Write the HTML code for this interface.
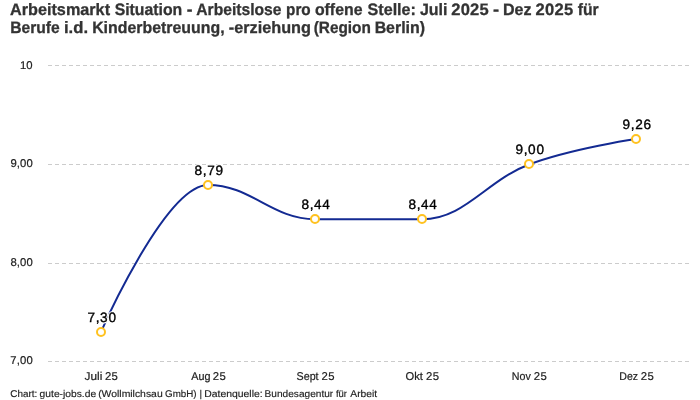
<!DOCTYPE html>
<html lang="de"><head><meta charset="utf-8"><title>Arbeitsmarkt Situation</title>
<style>
html,body{margin:0;padding:0;background:#fff;}
body{width:700px;height:400px;overflow:hidden;font-family:"Liberation Sans",sans-serif;}
svg{display:block;}
text{font-family:"Liberation Sans",sans-serif;white-space:pre;text-rendering:geometricPrecision;}
.title{font-size:16.5px;font-weight:bold;fill:#333;stroke:#333;stroke-width:0.3px;}
.yl{font-size:11.3px;fill:#222;stroke:#222;stroke-width:0.2px;}
.xl{font-size:11.3px;fill:#222;stroke:#222;stroke-width:0.2px;}
.dt{font-size:13.6px;}
.dh{fill:#fff;stroke:#fff;stroke-width:2.6px;stroke-linejoin:round;}
.dl{fill:#000;stroke:#000;stroke-width:0.35px;}
.ft{font-size:9.8px;fill:#222;stroke:#222;stroke-width:0.15px;}
.grid line{stroke:#ccc;stroke-width:1;stroke-dasharray:4 3;shape-rendering:crispEdges;}
</style></head><body>
<svg width="700" height="400" viewBox="0 0 700 400">
<rect width="700" height="400" fill="#fff"/>
<text class="title" y="14.50"><tspan x="10.05" textLength="99.99" lengthAdjust="spacingAndGlyphs">Arbeitsmarkt</tspan> <tspan x="114.64" textLength="67.55" lengthAdjust="spacingAndGlyphs">Situation</tspan> <tspan x="186.88" textLength="5.74" lengthAdjust="spacingAndGlyphs">-</tspan> <tspan x="196.26" textLength="85.19" lengthAdjust="spacingAndGlyphs">Arbeitslose</tspan> <tspan x="286.09" textLength="24.65" lengthAdjust="spacingAndGlyphs">pro</tspan> <tspan x="314.92" textLength="47.54" lengthAdjust="spacingAndGlyphs">offene</tspan> <tspan x="367.53" textLength="48.44" lengthAdjust="spacingAndGlyphs">Stelle:</tspan> <tspan x="419.88" textLength="27.55" lengthAdjust="spacingAndGlyphs">Juli</tspan> <tspan x="451.32" textLength="37.32" lengthAdjust="spacing">2025</tspan> <tspan x="493.04" textLength="6.11" lengthAdjust="spacingAndGlyphs">-</tspan> <tspan x="503.03" textLength="28.53" lengthAdjust="spacingAndGlyphs">Dez</tspan> <tspan x="535.62" textLength="37.62" lengthAdjust="spacing">2025</tspan> <tspan x="577.78" textLength="20.94" lengthAdjust="spacingAndGlyphs">für</tspan></text>
<text class="title" y="33.45"><tspan x="10.15" textLength="49.52" lengthAdjust="spacingAndGlyphs">Berufe</tspan> <tspan x="63.99" textLength="24.09" lengthAdjust="spacingAndGlyphs">i.d.</tspan> <tspan x="92.14" textLength="132.44" lengthAdjust="spacingAndGlyphs">Kinderbetreuung,</tspan> <tspan x="228.81" textLength="82.10" lengthAdjust="spacingAndGlyphs">-erziehung</tspan> <tspan x="313.72" textLength="57.14" lengthAdjust="spacingAndGlyphs">(Region</tspan> <tspan x="374.64" textLength="50.38" lengthAdjust="spacingAndGlyphs">Berlin)</tspan></text>
<g class="grid">
<line x1="48" y1="65.5" x2="690" y2="65.5"/>
<line x1="48" y1="164.5" x2="690" y2="164.5"/>
<line x1="48" y1="263.5" x2="690" y2="263.5"/>
<line x1="48" y1="361.5" x2="690" y2="361.5"/>
</g>
<text class="yl" y="68.80"><tspan x="19.95" textLength="12.68" lengthAdjust="spacing">10</tspan></text>
<text class="yl" y="166.60"><tspan x="10.43" textLength="22.35" lengthAdjust="spacing">9,00</tspan></text>
<text class="yl" y="265.70"><tspan x="10.43" textLength="22.35" lengthAdjust="spacing">8,00</tspan></text>
<text class="yl" y="363.60"><tspan x="10.30" textLength="22.47" lengthAdjust="spacing">7,00</tspan></text>
<text class="xl" y="379.80"><tspan x="84.57" textLength="17.77" lengthAdjust="spacingAndGlyphs">Juli</tspan> <tspan x="104.90" textLength="12.85" lengthAdjust="spacing">25</tspan></text>
<text class="xl" y="379.80"><tspan x="191.22" textLength="19.16" lengthAdjust="spacingAndGlyphs">Aug</tspan> <tspan x="212.70" textLength="13.05" lengthAdjust="spacing">25</tspan></text>
<text class="xl" y="379.80"><tspan x="296.54" textLength="22.06" lengthAdjust="spacingAndGlyphs">Sept</tspan> <tspan x="321.50" textLength="13.05" lengthAdjust="spacing">25</tspan></text>
<text class="xl" y="379.80"><tspan x="405.61" textLength="17.35" lengthAdjust="spacingAndGlyphs">Okt</tspan> <tspan x="425.90" textLength="13.05" lengthAdjust="spacing">25</tspan></text>
<text class="xl" y="379.80"><tspan x="511.77" textLength="19.00" lengthAdjust="spacingAndGlyphs">Nov</tspan> <tspan x="533.70" textLength="13.05" lengthAdjust="spacing">25</tspan></text>
<text class="xl" y="379.80"><tspan x="619.28" textLength="18.75" lengthAdjust="spacingAndGlyphs">Dez</tspan> <tspan x="640.70" textLength="13.05" lengthAdjust="spacing">25</tspan></text>
<path d="M101.000 331.900 C101.000 331.900 165.200 184.887 208.000 184.887 C250.800 184.887 272.200 219.223 315.000 219.223 C357.800 219.223 379.200 219.223 422.000 219.223 C464.800 219.223 486.200 180.510 529.000 164.463 C571.800 148.416 636.000 138.987 636.000 138.987" fill="none" stroke="#132a92" stroke-width="2" stroke-linejoin="round" stroke-linecap="butt"/>
<circle cx="101" cy="332" r="4" fill="#fff" stroke="#ffc220" stroke-width="2"/>
<circle cx="208" cy="185" r="4" fill="#fff" stroke="#ffc220" stroke-width="2"/>
<circle cx="315" cy="219" r="4" fill="#fff" stroke="#ffc220" stroke-width="2"/>
<circle cx="422" cy="219" r="4" fill="#fff" stroke="#ffc220" stroke-width="2"/>
<circle cx="529" cy="164" r="4" fill="#fff" stroke="#ffc220" stroke-width="2"/>
<circle cx="636" cy="139" r="4" fill="#fff" stroke="#ffc220" stroke-width="2"/>
<g class="dh">
<use href="#dl0"/>
<use href="#dl1"/>
<use href="#dl2"/>
<use href="#dl3"/>
<use href="#dl4"/>
<use href="#dl5"/>
</g>
<g class="dl">
<text class="dt" y="321.85" id="dl0"><tspan x="87.40" textLength="28.54" lengthAdjust="spacing">7,30</tspan></text>
<text class="dt" y="174.85" id="dl1"><tspan x="194.53" textLength="28.54" lengthAdjust="spacing">8,79</tspan></text>
<text class="dt" y="208.85" id="dl2"><tspan x="301.52" textLength="28.29" lengthAdjust="spacing">8,44</tspan></text>
<text class="dt" y="208.85" id="dl3"><tspan x="408.52" textLength="28.29" lengthAdjust="spacing">8,44</tspan></text>
<text class="dt" y="153.85" id="dl4"><tspan x="515.40" textLength="28.54" lengthAdjust="spacing">9,00</tspan></text>
<text class="dt" y="128.85" id="dl5"><tspan x="622.40" textLength="28.67" lengthAdjust="spacing">9,26</tspan></text>
</g>
<text class="ft" y="397.00"><tspan x="10.22" textLength="27.00" lengthAdjust="spacingAndGlyphs">Chart:</tspan> <tspan x="39.61" textLength="56.54" lengthAdjust="spacingAndGlyphs">gute-jobs.de</tspan> <tspan x="98.17" textLength="64.51" lengthAdjust="spacingAndGlyphs">(Wollmilchsau</tspan> <tspan x="165.03" textLength="31.55" lengthAdjust="spacingAndGlyphs">GmbH)</tspan> <tspan x="199.60">|</tspan> <tspan x="204.20" textLength="58.44" lengthAdjust="spacingAndGlyphs">Datenquelle:</tspan> <tspan x="264.63" textLength="68.57" lengthAdjust="spacingAndGlyphs">Bundesagentur</tspan> <tspan x="335.88" textLength="11.08" lengthAdjust="spacingAndGlyphs">für</tspan> <tspan x="350.30" textLength="26.77" lengthAdjust="spacingAndGlyphs">Arbeit</tspan></text>
</svg>
</body></html>
